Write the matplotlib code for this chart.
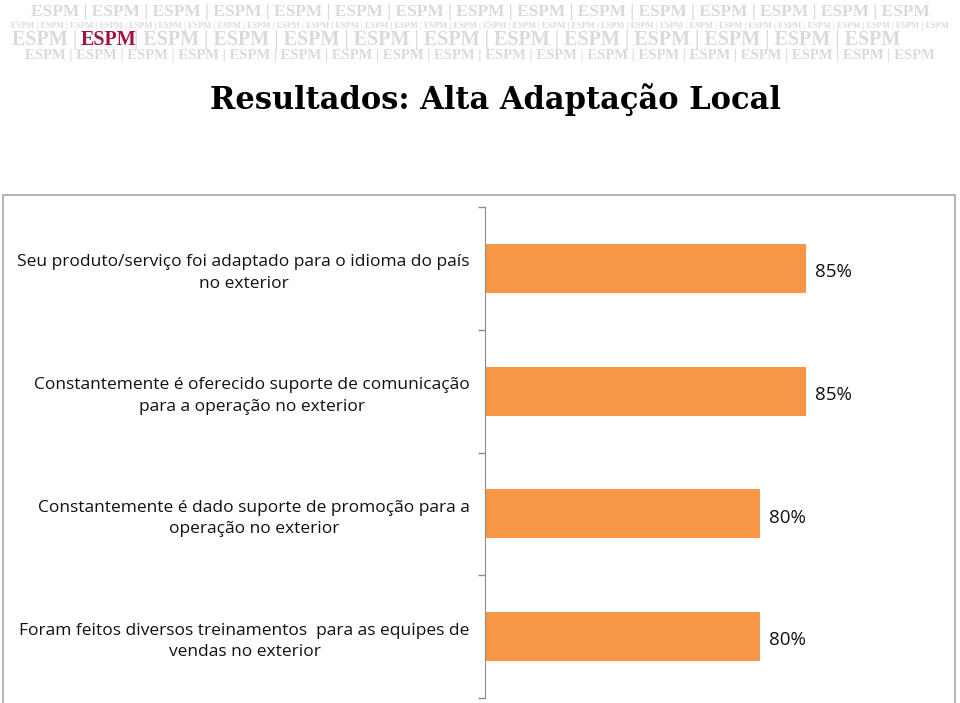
import matplotlib
matplotlib.use("Agg")
import matplotlib.pyplot as plt
from matplotlib.patches import Rectangle

categories = [
    "Seu produto/serviço foi adaptado para o idioma do país\nno exterior",
    "Constantemente é oferecido suporte de comunicação\npara a operação no exterior",
    "Constantemente é dado suporte de promoção para a\noperação no exterior",
    "Foram feitos diversos treinamentos  para as equipes de\nvendas no exterior",
]
values = [85, 85, 80, 80]
value_labels = ["85%", "85%", "80%", "80%"]
title = "Resultados: Alta Adaptação Local"
brand = "ESPM"

W, H = 960, 703
fig = plt.figure(figsize=(W / 100, H / 100), dpi=100)
fig.patch.set_facecolor("white")
renderer = fig.canvas.get_renderer()


def fx(px):
    return px / W


def fy(py):
    return 1 - py / H


serif = ["Liberation Serif", "DejaVu Serif"]
GRAY = "#dadada"


def fill_row(x_start, x_end, y, size, lead="", trail="", align="center"):
    """Repeat the brand word in a row, keeping the text inside [x_start, x_end]."""
    t = fig.text(0, fy(y), lead + brand + trail, fontsize=size, family=serif,
                 weight="bold", color=GRAY, va="center", ha="left")
    n = 1
    while True:
        t.set_text(lead + " | ".join([brand] * (n + 1)) + trail)
        if t.get_window_extent(renderer).width > (x_end - x_start):
            t.set_text(lead + " | ".join([brand] * n) + trail)
            break
        n += 1
    w = t.get_window_extent(renderer).width
    if align == "center":
        x0 = x_start + (x_end - x_start - w) / 2
    elif align == "right":
        x0 = x_end - w
    else:
        x0 = x_start
    t.set_x(fx(x0))
    return t


# Banner rows
fill_row(1, 959, 12, 12.5)
fill_row(1, 959, 25.5, 6)
fill_row(1, 77, 40, 14.5, trail=" |", align="right")
fill_row(134, 959, 40, 14.5, lead="| ", align="left")
fill_row(1, 959, 56, 10.5)
fig.text(fx(81), fy(40), brand, fontsize=14.5, family=serif, weight="bold",
         color="#a0163a", va="center", ha="left")

# Title
fig.text(fx(495), fy(100), title, fontsize=22, family=["DejaVu Serif"],
         weight="bold", color="black", ha="center", va="center")

# Chart box border
fig.patches.append(Rectangle((fx(3), fy(710)), fx(955) - fx(3), fy(195) - fy(710),
                             transform=fig.transFigure, fill=False,
                             ec="#a6a6a6", lw=1.2))

ax = fig.add_axes([fx(485), fy(698), fx(943) - fx(485), fy(207) - fy(698)])
ypos = list(range(len(categories)))
ax.barh(ypos, values, height=0.4, color="#F79646")
ax.set_xlim(50, 100)
ax.set_ylim(len(categories) - 0.5, -0.5)

ax.set_xticks([])
ax.set_yticks(ypos)
ax.set_yticklabels(categories, fontsize=12.5, family=["Open Sans", "DejaVu Sans"],
                   multialignment="center", color="#111111", linespacing=1.45)
ax.tick_params(axis="y", which="major", length=0, pad=11)
ax.set_yticks([i - 0.5 for i in range(len(categories) + 1)], minor=True)
ax.tick_params(axis="y", which="minor", length=5, color="#8c8c8c", width=1)

for s in ["top", "right", "bottom"]:
    ax.spines[s].set_visible(False)
ax.spines["left"].set_color("#8c8c8c")

for yv, v, lab in zip(ypos, values, value_labels):
    ax.text(v + 1.0, yv + 0.03, lab, fontsize=13.5, family=["Open Sans", "DejaVu Sans"],
            va="center", ha="left", color="#111111")

fig.savefig("out.png", dpi=100)
